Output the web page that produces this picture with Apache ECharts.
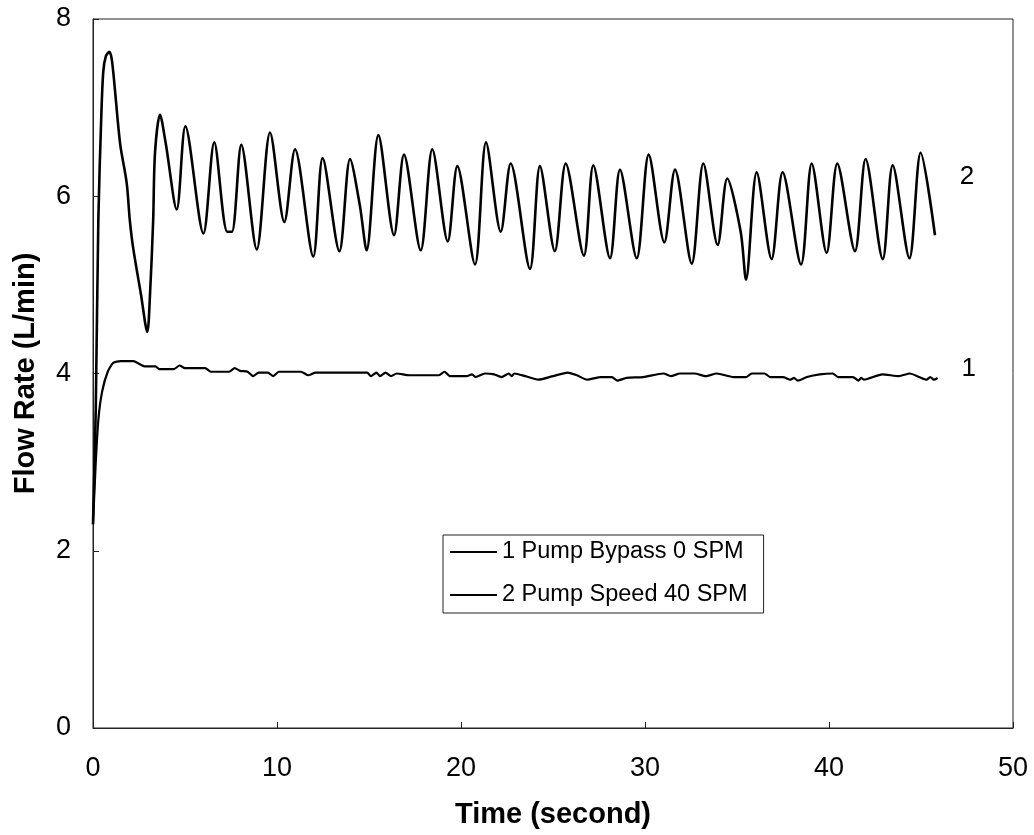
<!DOCTYPE html>
<html lang="en">

<head>
    <meta charset="UTF-8">
    <title>Flow Rate</title>
    <script src="https://cdn.jsdelivr.net/npm/echarts@6/dist/echarts.min.js"></script>
    <style>
        body {
            margin: 0;
            background-color: #fff;
        }
        #main {
            width: 1034px;
            height: 835px;
        }
    </style>
</head>

<body>
    <div id="main"></div>
    <script type="text/javascript">
        // [time (s), flow rate (L/min)]
        var bypass = [
            [0, 2.3], [0.15, 3.0], [0.3, 3.5], [0.5, 3.8], [0.8, 4.02], [1.1, 4.12], [1.5, 4.14], [2.2, 4.14],
            [2.5, 4.11], [2.8, 4.08], [3.4, 4.08], [3.6, 4.05], [4.4, 4.05], [4.7, 4.09], [5.0, 4.06],
            [6.1, 4.06], [6.4, 4.02], [7.4, 4.02], [7.7, 4.06], [8.0, 4.03], [8.4, 4.02], [8.7, 3.97],
            [9.0, 4.01], [9.5, 4.01], [9.8, 3.97], [10.1, 4.02], [11.3, 4.02], [11.7, 3.98], [12.1, 4.01],
            [14.9, 4.01], [15.1, 3.97], [15.4, 4.01], [15.6, 3.97], [15.9, 4.01], [16.2, 3.97], [16.5, 4.0],
            [17.2, 3.98], [18.8, 3.98], [19.1, 4.02], [19.4, 3.97], [20.3, 3.97], [20.6, 3.99], [20.8, 3.96],
            [21.3, 4.0], [21.8, 3.99], [22.2, 3.96], [22.6, 4.0], [22.75, 3.97], [22.9, 4.0], [23.5, 3.97],
            [24.2, 3.93], [25.0, 3.97], [25.8, 4.01], [26.3, 3.98], [26.85, 3.93], [27.6, 3.96], [28.2, 3.96],
            [28.5, 3.92], [29.0, 3.95], [29.9, 3.96], [31.0, 4.0], [31.4, 3.97], [31.9, 4.0], [32.7, 4.0],
            [33.3, 3.97], [33.9, 4.0], [34.8, 3.96], [35.5, 3.96], [35.8, 4.0], [36.5, 4.0], [36.8, 3.96],
            [37.5, 3.96], [37.9, 3.93], [38.1, 3.95], [38.3, 3.92], [38.8, 3.96], [39.5, 3.99], [40.2, 4.0],
            [40.5, 3.96], [41.3, 3.96], [41.6, 3.92], [41.75, 3.95], [41.9, 3.93], [42.9, 3.99], [43.8, 3.97],
            [44.4, 4.0], [44.9, 3.96], [45.3, 3.93], [45.5, 3.96], [45.7, 3.93], [45.9, 3.95]
        ];

        var pump40 = [
            [0, 2.3], [0.15, 3.6], [0.29, 5.73], [0.45, 6.9], [0.56, 7.41], [0.7, 7.58], [0.89, 7.63],
            [1.05, 7.5], [1.47, 6.6], [1.83, 6.15], [2.0, 5.73], [2.18, 5.42], [2.6, 4.9], [2.95, 4.47],
            [3.1, 4.9], [3.27, 5.73], [3.37, 6.49], [3.64, 6.92], [3.95, 6.6], [4.55, 5.85], [5.02, 6.79],
            [6.0, 5.58], [6.59, 6.61], [7.3, 5.6], [7.55, 5.6], [8.06, 6.58], [8.9, 5.4], [9.62, 6.72],
            [10.4, 5.71], [10.98, 6.53], [11.97, 5.32], [12.48, 6.43], [13.39, 5.38], [13.97, 6.42],
            [14.5, 5.9], [14.87, 5.39], [15.51, 6.69], [16.36, 5.56], [16.9, 6.47], [17.81, 5.39],
            [18.44, 6.53], [19.28, 5.49], [19.8, 6.34], [20.76, 5.23], [21.36, 6.61], [22.16, 5.6],
            [22.7, 6.37], [23.75, 5.18], [24.29, 6.34], [25.1, 5.38], [25.69, 6.37], [26.68, 5.33],
            [27.19, 6.35], [28.1, 5.3], [28.64, 6.3], [29.55, 5.3], [30.2, 6.47], [31.05, 5.48],
            [31.63, 6.3], [32.54, 5.24], [33.17, 6.37], [33.95, 5.45], [34.47, 6.2], [35.2, 5.6],
            [35.49, 5.06], [36.07, 6.27], [36.88, 5.29], [37.48, 6.27], [38.48, 5.23], [39.06, 6.37],
            [39.87, 5.36], [40.45, 6.37], [41.41, 5.38], [41.99, 6.42], [42.92, 5.29], [43.46, 6.35],
            [44.37, 5.3], [44.98, 6.49], [45.76, 5.56]
        ];

        var xTicks = [0, 10, 20, 30, 40, 50];
        var yTicks = [0, 2, 4, 6, 8];
        var names = ['1 Pump Bypass 0 SPM', '2 Pump Speed 40 SPM'];
        // curve number tags: [time, flow, text]
        var tags = [[47.6, 4.05, '1'], [47.5, 6.22, '2']];

        var font = 'Liberation Sans, Arial, sans-serif';
        var myChart = echarts.init(document.getElementById('main'));

        function tag(t) {
            return {
                symbol: 'circle',
                symbolSize: 0,
                label: { show: true, color: '#000', fontFamily: font, fontSize: 26, formatter: '{b}' },
                data: [{ name: t[2], coord: [t[0], t[1]] }]
            };
        }

        var option = {
            animation: false,
            grid: {
                left: 93,
                right: 21,
                top: 19,
                bottom: 107,
                outerBoundsMode: 'none',
                show: true,
                borderColor: '#222',
                borderWidth: 1
            },
            legend: {
                orient: 'vertical',
                left: 443,
                top: 535,
                data: names.map(function (n) { return { name: n, icon: 'rect' }; }),
                itemWidth: 47,
                itemHeight: 2,
                itemGap: 17,
                padding: [4, 16, 5, 7],
                borderColor: '#222',
                borderWidth: 1,
                borderRadius: 0,
                itemStyle: { color: '#000' },
                textStyle: {
                    color: '#000',
                    fontFamily: font,
                    fontSize: 23.5,
                    lineHeight: 26
                }
            },
            xAxis: {
                type: 'value',
                min: xTicks[0],
                max: xTicks[xTicks.length - 1],
                interval: 10,
                name: 'Time (second)',
                nameLocation: 'middle',
                nameGap: 72,
                nameTextStyle: { color: '#000', fontFamily: font, fontSize: 29, fontWeight: 'bold' },
                axisLine: { lineStyle: { color: '#222', width: 1 } },
                axisTick: { inside: true, length: 6, lineStyle: { color: '#222' } },
                axisLabel: { color: '#000', fontFamily: font, fontSize: 27, margin: 27 },
                splitLine: { show: false }
            },
            yAxis: {
                type: 'value',
                min: yTicks[0],
                max: yTicks[yTicks.length - 1],
                interval: 2,
                name: 'Flow Rate (L/min)',
                nameLocation: 'middle',
                nameRotate: 90,
                nameGap: 53,
                nameTextStyle: { color: '#000', fontFamily: font, fontSize: 29, fontWeight: 'bold' },
                axisLine: { show: true, lineStyle: { color: '#222', width: 1 } },
                axisTick: { show: true, inside: true, length: 6, lineStyle: { color: '#222' } },
                axisLabel: { color: '#000', fontFamily: font, fontSize: 27, margin: 22 },
                splitLine: { show: false }
            },
            series: [{
                name: names[0],
                type: 'line',
                data: bypass,
                symbol: 'none',
                smooth: 0.2,
                lineStyle: { color: '#000', width: 2.2 },
                itemStyle: { color: '#000' },
                markPoint: tag(tags[0])
            }, {
                name: names[1],
                type: 'line',
                data: pump40,
                symbol: 'none',
                smooth: 0.3,
                lineStyle: { color: '#000', width: 2.6 },
                itemStyle: { color: '#000' },
                markPoint: tag(tags[1])
            }]
        };

        myChart.setOption(option);
    </script>
</body>

</html>
